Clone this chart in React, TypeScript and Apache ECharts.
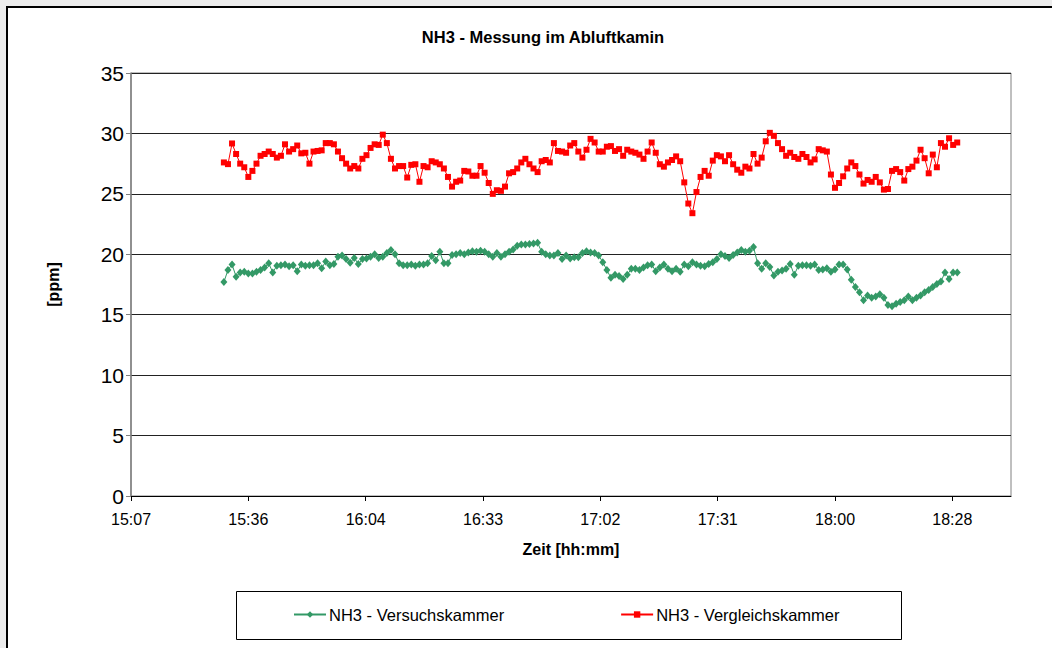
import React, { useEffect, useRef } from "react";
import * as echarts from "echarts";

// time of first sample (minutes after midnight, 15:30) and step of 1 minute
const startMinute = 930;
const sampleCount = 181;
const times: number[] = Array.from({ length: sampleCount }, (_, i) => startMinute + i);

const versuchskammer: number[] = [
  17.7, 18.7, 19.15, 18.15, 18.5, 18.55, 18.4, 18.4, 18.55, 18.7,
  18.9, 19.25, 18.5, 19.05, 19.1, 19.15, 19.0, 19.1, 18.6, 19.15,
  19.05, 19.1, 19.1, 19.25, 18.85, 19.4, 19.1, 19.2, 19.8, 19.9,
  19.6, 19.3, 19.7, 19.2, 19.6, 19.65, 19.8, 20.0, 19.7, 19.8,
  20.1, 20.35, 20.0, 19.25, 19.1, 19.1, 19.15, 19.05, 19.15, 19.15,
  19.25, 19.85, 19.5, 20.2, 19.25, 19.25, 19.95, 20.0, 20.1, 20.0,
  20.15, 20.25, 20.2, 20.3, 20.2, 20.0, 19.8, 20.1,
  19.8, 20.0, 20.2, 20.4, 20.7, 20.8, 20.8, 20.85, 20.9, 20.95,
  20.2, 20.0, 19.9, 19.9, 20.1, 19.6, 19.9, 19.65, 19.75, 19.75,
  20.1, 20.25, 20.15, 20.1, 19.9, 19.35, 18.7, 18.05, 18.3, 18.2,
  17.95, 18.3, 18.8, 18.8, 18.7, 18.9, 19.1, 19.15, 18.6, 18.9,
  19.15, 18.8, 18.6, 18.8, 18.55, 19.15, 19.0, 19.35, 19.15, 19.05,
  19.0, 19.2, 19.35, 19.6, 20.0, 19.85, 19.7, 19.95, 20.15, 20.35,
  20.2, 20.3, 20.6, 19.25, 18.8, 19.25, 18.95, 18.25, 18.55,
  18.65, 18.8, 19.2, 18.3, 19.05, 19.1, 19.1, 19.05, 19.15, 18.7,
  18.75, 18.85, 18.55, 18.75, 19.15, 19.15, 18.75, 17.9, 17.3, 16.85,
  16.2, 16.6, 16.4, 16.5, 16.7, 16.4, 15.8, 15.7, 15.9, 16.05,
  16.2, 16.5, 16.2, 16.4, 16.6, 16.85, 17.05, 17.3, 17.55, 17.75,
  18.5, 17.95, 18.5, 18.5,
];

const vergleichskammer: number[] = [
  27.6, 27.46, 29.17, 28.3, 27.5, 27.2, 26.4, 26.9, 27.5, 28.15,
  28.3, 28.5, 28.3, 28.0, 28.15, 29.1, 28.5, 28.7, 29.0, 28.35,
  28.4, 27.5, 28.5, 28.55, 28.6, 29.2, 29.2, 29.1, 28.5, 27.95,
  27.5, 27.1, 27.3, 27.1, 27.9, 28.2, 28.8, 29.1, 29.05, 29.9,
  29.2, 27.9, 27.1, 27.3, 27.3, 26.35, 27.4, 27.45, 26.0, 27.3,
  27.2, 27.7, 27.6, 27.45, 27.1, 26.4, 25.6, 26.0, 26.1, 26.9,
  26.85, 26.5, 26.5, 27.3, 26.75, 25.9, 25.0, 25.3,
  25.25, 25.6, 26.7, 26.8, 27.1, 27.6, 27.9, 27.45, 27.1, 26.8,
  27.7, 27.8, 27.6, 29.2, 28.55, 28.5, 28.4, 29.0, 29.2, 28.5,
  28.0, 28.65, 29.55, 29.25, 28.5, 28.5, 28.9, 28.95, 28.55, 28.7,
  28.15, 28.65, 28.5, 28.4, 28.25, 27.9, 28.5, 29.25, 28.4, 27.45,
  27.25, 27.6, 27.8, 28.1, 27.7, 25.95, 24.2, 23.4, 25.15, 26.4,
  26.9, 26.5, 27.75, 28.2, 28.1, 27.7, 28.2, 27.45, 27.0, 26.75,
  27.25, 27.1, 28.3, 27.5, 28.0, 29.35, 30.05, 29.8, 29.2,
  28.7, 28.15, 28.4, 28.05, 27.9, 28.3, 28.05, 27.6, 27.85, 28.7,
  28.6, 28.5, 26.6, 25.5, 25.9, 26.45, 27.1, 27.6, 27.3, 26.6,
  25.85, 26.15, 26.0, 26.4, 25.95, 25.35, 25.4, 26.9, 27.05, 26.8,
  26.1, 27.05, 27.25, 27.75, 28.65, 27.95, 26.7, 28.25, 27.2, 29.2,
  28.9, 29.6, 29.05, 29.25,
];

const seriesNames = ["NH3 - Versuchskammer", "NH3 - Vergleichskammer"];
const titleText = "NH3 - Messung im Abluftkamin";
const xAxisName = "Zeit [hh:mm]";
const yAxisName = "[ppm]";

// x axis: 0.63 .. 0.78 day, major unit 0.02 day (in minutes)
const xMin = 907.2;
const xMax = 1123.2;
const xStep = 28.8;

const FONT = "'Liberation Sans', Arial, sans-serif";

function fmtTime(v: number): string {
  const m = Math.floor(v + 1e-6);
  const h = Math.floor(m / 60);
  const mm = m % 60;
  return `${h}:${mm < 10 ? "0" + mm : mm}`;
}

export default function App() {
  const ref = useRef<HTMLDivElement>(null);
  useEffect(() => {
    if (!ref.current) return;
    const chart = echarts.init(ref.current, undefined, { renderer: "svg" });
    chart.setOption({
      animation: false,
      backgroundColor: "#ececec",
      textStyle: { fontFamily: FONT },
      title: {
        text: titleText,
        left: 538,
        top: 23,
        textAlign: "center",
        textStyle: { fontSize: 16.5, fontWeight: "bold", color: "#000", fontFamily: FONT },
      },
      graphic: [
        {
          type: "rect",
          z: -10,
          shape: { x: 7, y: 7, width: 1100, height: 700 },
          style: { fill: "#ffffff", stroke: "#000", lineWidth: 2 },
        },
        {
          type: "rect",
          z: -5,
          shape: { x: 236.5, y: 591.5, width: 665, height: 48 },
          style: { fill: "#ffffff", stroke: "#000", lineWidth: 1 },
        },
      ],
      legend: {
        left: 293,
        top: 606,
        itemGap: 116,
        itemWidth: 32,
        itemHeight: 8,
        padding: 0,
        textStyle: { fontSize: 16.5, color: "#000", fontFamily: FONT, padding: [0, 0, 0, -2] },
        data: seriesNames,
      },
      grid: {
        left: 131,
        right: 41,
        top: 73,
        bottom: 152,
        show: true,
        backgroundColor: "#fff",
        borderColor: "#808080",
        borderWidth: 1,
      },
      xAxis: {
        type: "value",
        min: xMin,
        max: xMax,
        interval: xStep,
        name: xAxisName,
        nameLocation: "middle",
        nameGap: 45,
        nameTextStyle: { fontSize: 16, fontWeight: "bold", color: "#000", fontFamily: FONT },
        axisLine: { show: true, lineStyle: { color: "#000", width: 1 } },
        axisTick: { show: true, length: 5, lineStyle: { color: "#000" } },
        axisLabel: {
          margin: 15,
          fontSize: 16,
          color: "#000",
          fontFamily: FONT,
          showMaxLabel: false,
          formatter: (v: number) => fmtTime(v),
        },
        splitLine: { show: false },
      },
      yAxis: {
        type: "value",
        min: 0,
        max: 35,
        interval: 5,
        name: yAxisName,
        nameLocation: "middle",
        nameGap: 70,
        nameRotate: 90,
        nameTextStyle: { fontSize: 16, fontWeight: "bold", color: "#000", fontFamily: FONT },
        axisLine: { show: true, lineStyle: { color: "#808080", width: 1.5 } },
        axisTick: { show: true, length: 5, lineStyle: { color: "#808080" } },
        axisLabel: { margin: 7, fontSize: 21, color: "#000", fontFamily: FONT },
        splitLine: { show: true, lineStyle: { color: "#222", width: 1 } },
      },
      series: [
        {
          name: seriesNames[0],
          type: "line",
          data: times.map((t, i) => [t, versuchskammer[i]]),
          symbol: "diamond",
          symbolSize: [7, 8],
          color: "#339966",
          itemStyle: { color: "#339966" },
          lineStyle: { color: "#339966", width: 1 },
        },
        {
          name: seriesNames[1],
          type: "line",
          data: times.map((t, i) => [t, vergleichskammer[i]]),
          symbol: "rect",
          symbolSize: 6,
          color: "#ff0000",
          itemStyle: { color: "#ff0000" },
          lineStyle: { color: "#ff0000", width: 1 },
        },
      ],
    });
    return () => chart.dispose();
  }, []);
  return (
    <div
      ref={ref}
      style={{ position: "absolute", left: 0, top: 0, width: 1052, height: 648 }}
    />
  );
}
